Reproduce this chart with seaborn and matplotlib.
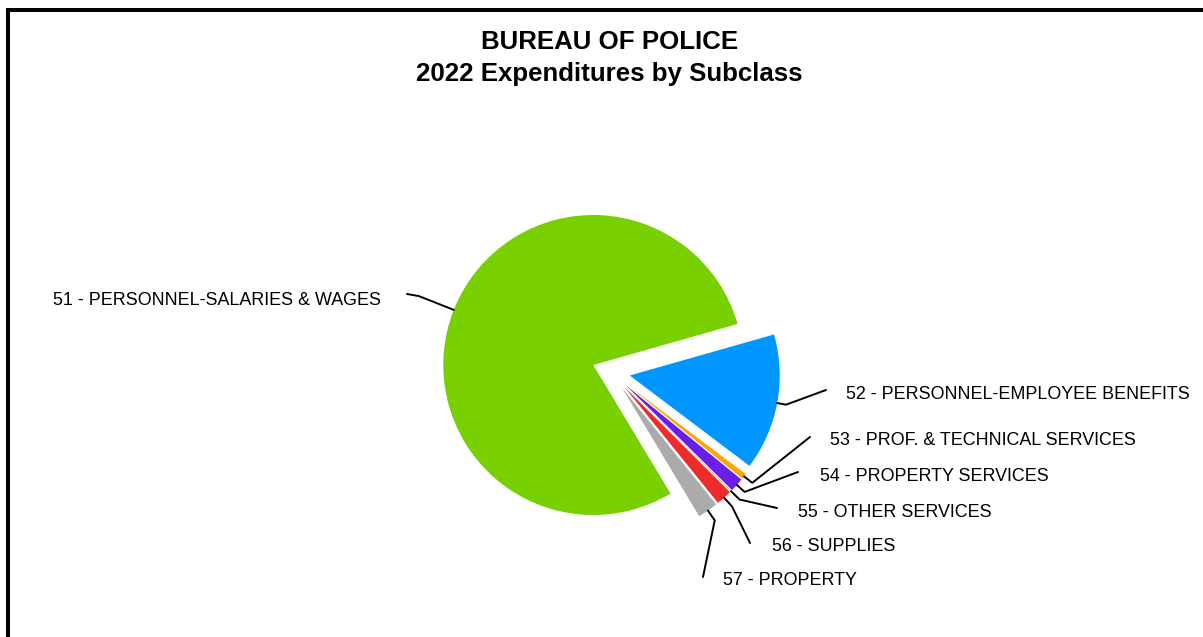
import numpy as np
import matplotlib
matplotlib.use('Agg')
import matplotlib.pyplot as plt
from matplotlib.patches import Rectangle
import seaborn as sns

sns.set_theme(style='white')
plt.rcParams['font.family'] = ['Liberation Sans', 'DejaVu Sans']
plt.rcParams['text.color'] = 'black'

# data (share of 2022 expenditures, %)
subclasses = ['51 - PERSONNEL-SALARIES & WAGES', '52 - PERSONNEL-EMPLOYEE BENEFITS',
              '53 - PROF. & TECHNICAL SERVICES', '54 - PROPERTY SERVICES',
              '55 - OTHER SERVICES', '56 - SUPPLIES', '57 - PROPERTY']
share_pct = [79.2, 14.7, 0.6, 1.5, 0.1, 1.7, 2.2]
colors = ['#78D000', '#0096FF', '#FFA500', '#6A1FE6', '#F2C14E', '#EE2A2A', '#ABABAB']

W, H = 1203, 637
CX, CY, R = 611, 372, 150   # pie centre and radius, pixels

fig = plt.figure(figsize=(W / 100, H / 100), dpi=100)
ax = fig.add_axes([0, 0, 1, 1])

wedges, _ = ax.pie(share_pct, colors=colors, explode=[0.127] * len(share_pct),
                   startangle=-59, counterclock=False,
                   wedgeprops=dict(linewidth=0))
ax.set_xlim(-CX / R, (W - CX) / R)
ax.set_ylim(-(H - CY) / R, CY / R)
ax.set_aspect('auto')
ax.axis('off')


def px(x, y):
    # image pixel -> data units
    return (x - CX) / R, (CY - y) / R


# leader line end points and label anchors (pixels)
line_ends = [(407, 294), (826, 390), (810, 437), (798, 472), (777, 508), (750, 543), (703, 577)]
label_pos = [(381, 299), (846, 393), (830, 439), (820, 475), (798, 511), (772, 545), (723, 579)]
elbow_r = [1.25, 1.06, 1.07, 1.07, 1.08, 1.08, 1.08]

for w, name, end, lab, er in zip(wedges, subclasses, line_ends, label_pos, elbow_r):
    th = np.deg2rad((w.theta1 + w.theta2) / 2)
    cx, cy = w.center
    d = np.array([np.cos(th), np.sin(th)])
    p0 = (cx + d[0], cy + d[1])
    p1 = (cx + er * d[0], cy + er * d[1])
    p2 = px(*end)
    ax.plot([p0[0], p1[0], p2[0]], [p0[1], p1[1], p2[1]], color='black', lw=1.4,
            solid_joinstyle='round', solid_capstyle='round')
    tx, ty = px(lab[0], lab[1] + 6)
    ax.text(tx, ty, name, ha='right' if lab[0] < CX else 'left', va='baseline',
            fontsize=12.9, color='black')

fig.text(609.5 / W, 1 - 49 / H, 'BUREAU OF POLICE', ha='center', va='baseline',
         fontsize=18.6, fontweight='bold', color='black')
fig.text(609.5 / W, 1 - 81 / H, '2022 Expenditures by Subclass', ha='center', va='baseline',
         fontsize=18.6, fontweight='bold', color='black')

fig.add_artist(Rectangle((7.5 / W, -0.2), 2, 1.2 - 10 / H, transform=fig.transFigure,
                         fill=False, edgecolor='black', lw=2.9))

fig.savefig('out.png', dpi=100)
